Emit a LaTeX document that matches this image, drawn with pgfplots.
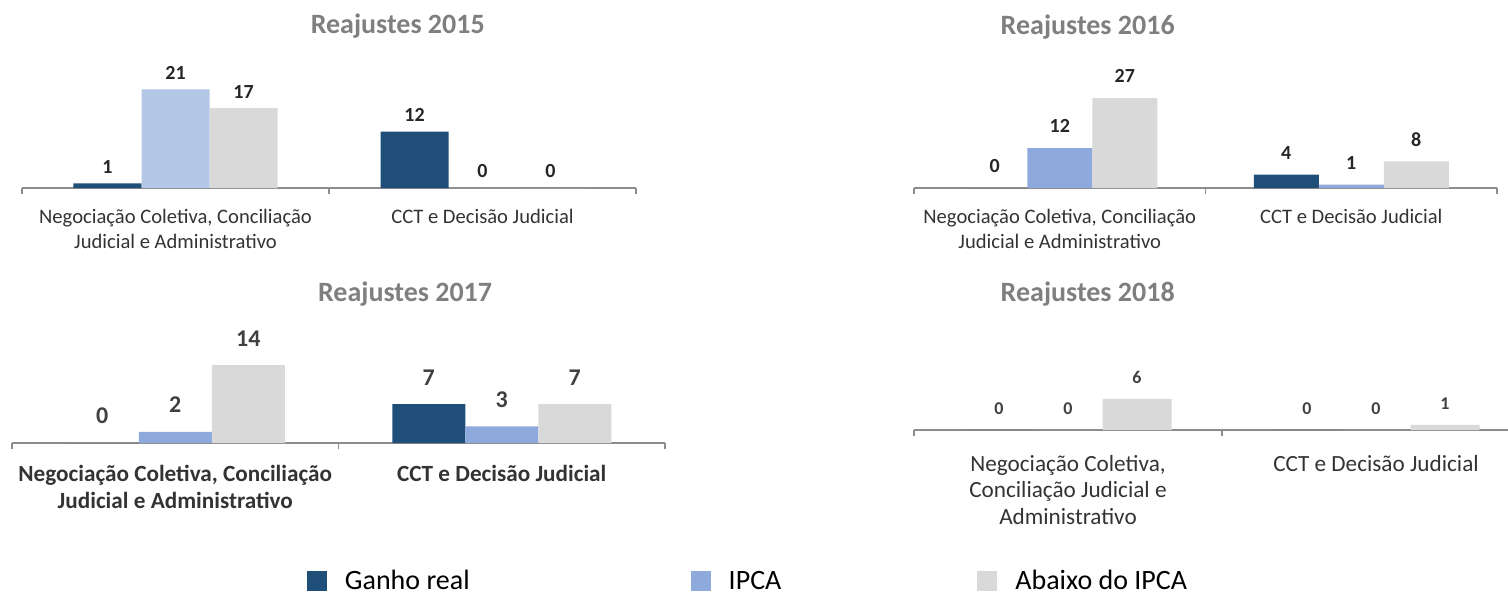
\documentclass[border=0pt]{standalone}
\usepackage{pgfplots}
\pgfplotsset{compat=1.18}
\usepackage{fontspec}
\setmainfont{Carlito}
\definecolor{cG}{HTML}{1F4E79}
\definecolor{cIl}{HTML}{B4C7E7}
\definecolor{cI}{HTML}{8EA9DB}
\definecolor{cA}{HTML}{D9D9D9}
\definecolor{ttl}{HTML}{7F7F7F}
\definecolor{axg}{HTML}{8C8C8C}
\definecolor{lab}{HTML}{333333}
\pgfplotsset{
  rs/.style={
    scale only axis, anchor=south west,
    ybar=0pt, ymin=0, xmin=-0.5, xmax=1.5,
    axis y line=none, axis x line=bottom,
    x axis line style={-, draw=axg, line width=0.8pt},
    xtick={-0.5,0.5,1.5}, xticklabels={},
    major tick length=3pt, tick align=outside,
    tick style={draw=axg, line width=0.8pt},
    extra x ticks={0,1},
    extra x tick style={major tick length=0pt},
    clip=false,
    nodes near coords,
    /pgf/number format/assume math mode=true,
    title style={font=\fontsize{14}{16}\selectfont\bfseries, text=ttl, anchor=center},
  }
}
\begin{document}
\begin{tikzpicture}
\path[use as bounding box] (0,0) rectangle (754pt,-298pt);
% 2015
\begin{axis}[rs, at={(11pt,-94pt)}, width=307pt, height=70.5pt, ymax=30, bar width=34pt,
  title={Reajustes 2015}, title style={at={(0.612,1.065)}},
  extra x tick labels={{Negociação Coletiva, Conciliação\\Judicial e Administrativo},{CCT e Decisão Judicial}},
  extra x tick style={major tick length=0pt, tick label style={align=center, font=\fontsize{10.3}{12.5}\selectfont, text=lab, yshift=-7pt}},
  every node near coord/.append style={font=\fontsize{10}{12}\selectfont\bfseries, text=black!85, yshift=1.5pt},
]
\addplot[fill=cG, draw=none] coordinates {(0,1) (1,12)};
\addplot[fill=cIl, draw=none] coordinates {(0,21) (1,0)};
\addplot[fill=cA, draw=none] coordinates {(0,17) (1,0)};
\end{axis}
% 2016
\begin{axis}[rs, at={(457pt,-94pt)}, width=291.5pt, height=70pt, ymax=42, bar width=32.5pt,
  title={Reajustes 2016}, title style={at={(0.298,1.064)}},
  extra x tick labels={{Negociação Coletiva, Conciliação\\Judicial e Administrativo},{CCT e Decisão Judicial}},
  extra x tick style={major tick length=0pt, tick label style={align=center, font=\fontsize{10.3}{12.5}\selectfont, text=lab, yshift=-7pt}},
  every node near coord/.append style={font=\fontsize{10}{12}\selectfont\bfseries, text=black!85, yshift=4pt},
  legend columns=3,
  legend style={at={(-0.283,-2.81)}, anchor=center, draw=none, fill=none,
    font=\fontsize{14}{16}\selectfont, text=black,
    /tikz/every odd column/.append style={column sep=7pt},
    /tikz/column 2/.append style={column sep=108.5pt},
    /tikz/column 4/.append style={column sep=96pt}},
  legend image code/.code={\fill[#1] (0pt,-5pt) rectangle (10pt,5pt);},
]
\addplot[fill=cG, draw=none] coordinates {(0,0) (1,4)};
\addplot[fill=cI, draw=none] coordinates {(0,12) (1,1)};
\addplot[fill=cA, draw=none] coordinates {(0,27) (1,8)};
\legend{Ganho real, IPCA, Abaixo do IPCA}
\end{axis}
% 2017
\begin{axis}[rs, at={(6pt,-221.5pt)}, width=326.5pt, height=50pt, ymax=18, bar width=36.5pt,
  title={Reajustes 2017}, title style={at={(0.602,1.37)}},
  extra x tick labels={{Negociação Coletiva, Conciliação\\Judicial e Administrativo},{CCT e Decisão Judicial}},
  extra x tick style={major tick length=0pt, tick label style={align=center, font=\fontsize{11.6}{13.5}\selectfont\bfseries, text=lab, yshift=-7.5pt}},
  every node near coord/.append style={font=\fontsize{12}{14}\selectfont\bfseries, text=black!75, yshift=6pt},
]
\addplot[fill=cG, draw=none] coordinates {(0,0) (1,7)};
\addplot[fill=cI, draw=none] coordinates {(0,2) (1,3)};
\addplot[fill=cA, draw=none] coordinates {(0,14) (1,7)};
\end{axis}
% 2018
\begin{axis}[rs, at={(457pt,-215pt)}, width=308pt, height=50pt, ymax=19.2, bar width=34.5pt,
  title={Reajustes 2018}, title style={at={(0.282,1.24)}},
  extra x tick labels={{Negociação Coletiva,\\Conciliação Judicial e\\Administrativo},{CCT e Decisão Judicial}},
  extra x tick style={major tick length=0pt, tick label style={align=center, font=\fontsize{11.6}{13.3}\selectfont, text=lab, yshift=-9pt}},
  every node near coord/.append style={font=\fontsize{9}{11}\selectfont\bfseries, text=black!75, yshift=4pt},
]
\addplot[fill=cG, draw=none] coordinates {(0,0) (1,0)};
\addplot[fill=cI, draw=none] coordinates {(0,0) (1,0)};
\addplot[fill=cA, draw=none] coordinates {(0,6) (1,1)};
\end{axis}
\end{tikzpicture}
\end{document}
